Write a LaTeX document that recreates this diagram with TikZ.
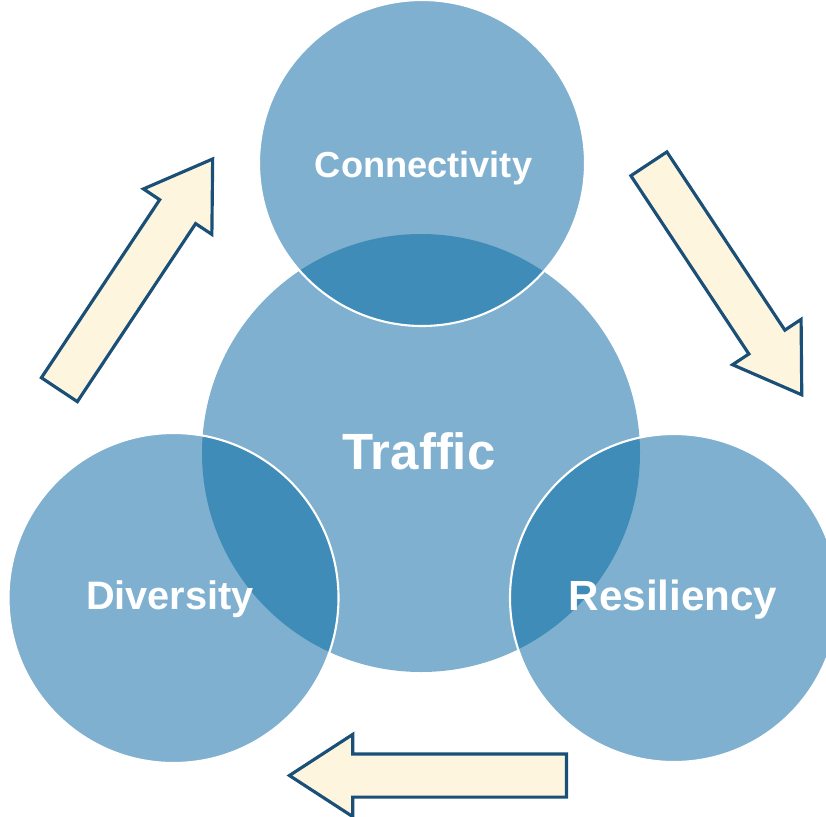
\documentclass[tikz,border=0pt]{standalone}
\usepackage{fontspec}
\setmainfont{Liberation Sans}
\usetikzlibrary{shapes, arrows}
\usetikzlibrary{positioning}

\definecolor{ringblue}{HTML}{7FB0CF}
\definecolor{deepblue}{HTML}{3F8CB8}
\definecolor{cream}{HTML}{FDF5DD}
\definecolor{navy}{HTML}{1A5078}

\tikzset{
  disctext/.style={text=white, anchor=base, inner sep=0pt},
  flow/.style={single arrow, draw=navy, fill=cream, line width=0.9pt,
    minimum height=2.77cm, minimum width=0.79cm, inner xsep=0pt, inner ysep=0.2cm,
    single arrow head extend=0.195cm, single arrow tip angle=66, anchor=tail}
}

\begin{document}
\begin{tikzpicture}
\useasboundingbox (0,0) rectangle (8.26,8.16);

\coordinate (traffic) at (4.21,3.63);
\coordinate (conn) at (4.22,6.53);
\coordinate (div) at (1.735,2.18);
\coordinate (res) at (6.74,2.18);

% discs
\fill[ringblue] (traffic) circle (2.19);
\fill[ringblue] (conn) circle (1.63);
\fill[ringblue] (div) circle (1.65);
\fill[ringblue] (res) circle (1.64);

% overlaps with the middle disc
\begin{scope}
\clip (traffic) circle (2.19);
\fill[deepblue] (conn) circle (1.63);
\fill[deepblue] (div) circle (1.65);
\fill[deepblue] (res) circle (1.64);
\end{scope}

\draw[white, line width=0.6pt] (conn) circle (1.63);
\draw[white, line width=0.6pt] (div) circle (1.65);
\draw[white, line width=0.6pt] (res) circle (1.64);

% arrows
\node[flow, rotate=56.4] (up) at (0.585,4.25) {};
\node[flow, rotate=-56.5] (down) at (6.48,6.535) {};
\node[flow, rotate=180] (back) at (5.68,0.405) {};

% texts
\node[disctext, font=\bfseries\fontsize{10.3}{12}\selectfont] (conntext) at (4.235,6.39) {Connectivity};
\node[disctext, font=\bfseries\fontsize{14.5}{17}\selectfont] (traffictext) at (4.19,3.47) {Traffic};
\node[disctext, font=\bfseries\fontsize{11.3}{13}\selectfont] (divtext) at (1.70,2.07) {Diversity};
\node[disctext, font=\bfseries\fontsize{12}{14}\selectfont] (restext) at (6.73,2.06) {Resiliency};
\end{tikzpicture}
\end{document}
